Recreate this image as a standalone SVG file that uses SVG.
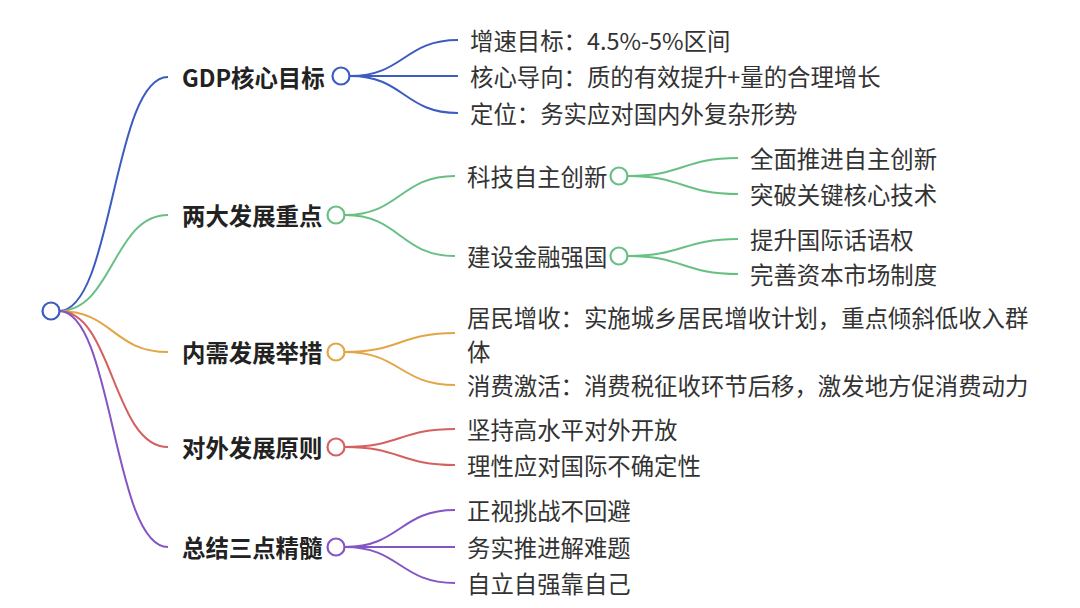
<svg xmlns="http://www.w3.org/2000/svg" width="1080" height="608" viewBox="0 0 1080 608">
<style>
text{font-family:"Noto Sans CJK SC","Noto Sans",sans-serif;font-size:23.4px;fill:#333;dominant-baseline:central}
.b{font-weight:bold;fill:#222}
path{fill:none;stroke-width:2}
circle{fill:#fff;stroke-width:2.2}
.cb{stroke:#3b5cc0}.cg{stroke:#67c083}.co{stroke:#e3a546}.cr{stroke:#d4605f}.cp{stroke:#8455c4}
</style>
<rect width="1080" height="608" fill="#fff"/>
<g id="connectors">
<path class="cb" d="M59,311 C113,311 113,77 168,77"/>
<path class="cg" d="M59,311 C113,311 113,215 168,215"/>
<path class="co" d="M59,311 C113,311 113,352 168,352"/>
<path class="cr" d="M59,311 C113,311 113,447 168,447"/>
<path class="cp" d="M59,311 C113,311 113,547 168,547"/>
<path class="cb" d="M350,76 C404,76 404,40 458,40"/>
<path class="cb" d="M350,76 L458,76"/>
<path class="cb" d="M350,76 C404,76 404,113 458,113"/>
<path class="cg" d="M345,215 C400,215 400,176 455,176"/>
<path class="cg" d="M345,215 C400,215 400,256 455,256"/>
<path class="cg" d="M628,176 C683,176 683,158 738,158"/>
<path class="cg" d="M628,176 C683,176 683,194 738,194"/>
<path class="cg" d="M628,256 C683,256 683,239 738,239"/>
<path class="cg" d="M628,256 C683,256 683,274 738,274"/>
<path class="co" d="M345,352 C400,352 400,333 455,333"/>
<path class="co" d="M345,352 C400,352 400,385 455,385"/>
<path class="cr" d="M345,447 C400,447 400,429 455,429"/>
<path class="cr" d="M345,447 C400,447 400,465 455,465"/>
<path class="cp" d="M345,547 C400,547 400,510 455,510"/>
<path class="cp" d="M345,547 L455,547"/>
<path class="cp" d="M345,547 C400,547 400,583 455,583"/>
</g>
<g id="root"><circle class="cb" cx="51" cy="311" r="8.5"/></g>
<g id="n-gdp">
<text class="b" x="182" y="77">GDP核心目标</text>
<circle class="cb" cx="341" cy="76" r="8.5"/>
</g>
<g id="n-gdp-1"><text x="470" y="40">增速目标：4.5%-5%区间</text></g>
<g id="n-gdp-2"><text x="470" y="76">核心导向：质的有效提升+量的合理增长</text></g>
<g id="n-gdp-3"><text x="470" y="113">定位：务实应对国内外复杂形势</text></g>
<g id="n-two">
<text class="b" x="182" y="215">两大发展重点</text>
<circle class="cg" cx="336" cy="215" r="8.5"/>
</g>
<g id="n-tech">
<text x="467" y="176">科技自主创新</text>
<circle class="cg" cx="619" cy="176" r="8.5"/>
</g>
<g id="n-tech-1"><text x="750" y="158">全面推进自主创新</text></g>
<g id="n-tech-2"><text x="750" y="194">突破关键核心技术</text></g>
<g id="n-fin">
<text x="467" y="256">建设金融强国</text>
<circle class="cg" cx="619" cy="256" r="8.5"/>
</g>
<g id="n-fin-1"><text x="750" y="239">提升国际话语权</text></g>
<g id="n-fin-2"><text x="750" y="274">完善资本市场制度</text></g>
<g id="n-dem">
<text class="b" x="182" y="352">内需发展举措</text>
<circle class="co" cx="336" cy="352" r="8.5"/>
</g>
<g id="n-dem-1"><text x="467" y="317">居民增收：实施城乡居民增收计划，重点倾斜低收入群</text><text x="467" y="351">体</text></g>
<g id="n-dem-2"><text x="467" y="385">消费激活：消费税征收环节后移，激发地方促消费动力</text></g>
<g id="n-ext">
<text class="b" x="182" y="447">对外发展原则</text>
<circle class="cr" cx="336" cy="447" r="8.5"/>
</g>
<g id="n-ext-1"><text x="467" y="429">坚持高水平对外开放</text></g>
<g id="n-ext-2"><text x="467" y="465">理性应对国际不确定性</text></g>
<g id="n-sum">
<text class="b" x="182" y="547">总结三点精髓</text>
<circle class="cp" cx="336" cy="547" r="8.5"/>
</g>
<g id="n-sum-1"><text x="467" y="510">正视挑战不回避</text></g>
<g id="n-sum-2"><text x="467" y="547">务实推进解难题</text></g>
<g id="n-sum-3"><text x="467" y="583">自立自强靠自己</text></g>
</svg>
